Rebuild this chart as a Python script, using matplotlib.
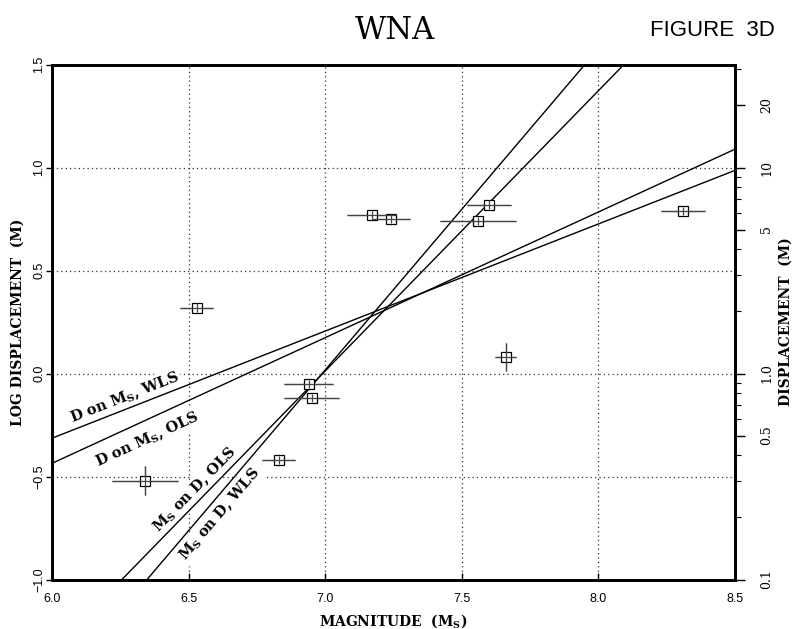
import numpy as np
import matplotlib
matplotlib.use("Agg")
import matplotlib.pyplot as plt
from matplotlib.ticker import FixedLocator, NullFormatter

plt.rcParams["mathtext.fontset"] = "dejavuserif"

# ── observations: magnitude vs log maximum displacement ──────────────────────
mag      = [6.53, 7.17, 7.24, 7.60, 7.56, 8.31, 7.66, 6.94, 6.95, 6.83, 6.34]
mag_err  = [0.06, 0.09, 0.07, 0.08, 0.14, 0.08, 0.04, 0.09, 0.10, 0.06, 0.12]
logd     = [0.32, 0.77, 0.75, 0.82, 0.74, 0.79, 0.08, -0.05, -0.12, -0.42, -0.52]
logd_err = [0.02, 0.02, 0.02, 0.02, 0.02, 0.02, 0.07, 0.02, 0.02, 0.02, 0.07]

# log D = a + b * Ms
d_on_m = {"WLS": (-3.434, 0.52), "OLS": (-4.096, 0.61)}
# Ms = c + d * log D
m_on_d = {"OLS": (6.991, 0.735), "WLS": (6.989, 0.641)}

XLIM = (6.0, 8.5)
YLIM = (-1.0, 1.5)
XTICKS = [6.0, 6.5, 7.0, 7.5, 8.0, 8.5]
YTICKS = [-1.0, -0.5, 0.0, 0.5, 1.0, 1.5]
RIGHT_TICKS = [0.1, 0.5, 1.0, 5, 10, 20]
RIGHT_LABELS = ["0.1", "0.5", "1.0", "5", "10", "20"]

SERIF = "DejaVu Serif"

fig = plt.figure(figsize=(7.95, 6.29), dpi=100)
ax = fig.add_axes([52 / 795, 1 - 579.5 / 629, 683 / 795, 515 / 629])
ax.set_xlim(*XLIM)
ax.set_ylim(*YLIM)

# dotted grid
for gx in XTICKS[1:-1]:
    ax.axvline(gx, color="#333333", lw=0.9, ls=(0, (1, 2.5)), zorder=0.5)
for gy in YTICKS[1:-1]:
    ax.axhline(gy, color="#333333", lw=0.9, ls=(0, (1, 2.5)), zorder=0.5)

# regression lines
xs = np.array(XLIM)
for key, (a, b) in d_on_m.items():
    ax.plot(xs, a + b * xs, color="black", lw=1.0, zorder=2)
ys = np.array(YLIM)
for key, (c, d) in m_on_d.items():
    ax.plot(c + d * ys, ys, color="black", lw=1.0, zorder=2)

# data with error bars
ax.errorbar(mag, logd, xerr=mag_err, yerr=logd_err, fmt="s", ms=6.5,
            mfc="white", mec="black", mew=0.9, ecolor="#444444",
            elinewidth=0.9, capsize=0, zorder=3)
ax.errorbar(mag, logd, xerr=mag_err, yerr=logd_err, fmt="none",
            ecolor="#444444", elinewidth=0.9, capsize=0, zorder=4)


def line_label(text, x0, y0, slope, offset_px):
    p0 = ax.transData.transform((x0, y0))
    p1 = ax.transData.transform((x0 + 0.1, y0 + 0.1 * slope))
    ang = np.degrees(np.arctan2(p1[1] - p0[1], p1[0] - p0[0]))
    nrm = np.radians(ang + 90)
    off = offset_px * 0.72
    ax.annotate(text, (x0, y0), xytext=(off * np.cos(nrm), off * np.sin(nrm)),
                textcoords="offset points", rotation=ang,
                rotation_mode="anchor", ha="center", va="center",
                fontsize=10.5, family=SERIF, weight="bold", zorder=1.5,
                bbox=dict(fc="white", ec="none", pad=1.5))


ms = r"M$_{\mathbf{S}}$"
a, b = d_on_m["WLS"]
line_label(f"D on {ms}, WLS", 6.28, a + b * 6.28, b, 11)
a, b = d_on_m["OLS"]
line_label(f"D on {ms}, OLS", 6.32, a + b * 6.32, b, -18)
c, d = m_on_d["OLS"]
line_label(f"{ms} on D, OLS", c + d * -0.60, -0.60, 1 / d, 10)
c, d = m_on_d["WLS"]
line_label(f"{ms} on D, WLS", c + d * -0.64, -0.64, 1 / d, -13)

# left / bottom axes
ax.set_xticks(XTICKS)
ax.set_xticklabels([f"{v:.1f}" for v in XTICKS], fontsize=9,
                   family="Liberation Sans")
ax.set_yticks(YTICKS)
ax.set_yticklabels([f"{v:.1f}".replace("-", "\u2212") for v in YTICKS],
                   fontsize=9, family="Liberation Sans", rotation=90,
                   va="center")
ax.tick_params(axis="x", direction="in", length=5, width=1, pad=10)
ax.tick_params(axis="y", direction="out", length=4, width=1, pad=1)
for sp in ax.spines.values():
    sp.set_linewidth(2.0)

ax.set_xlabel(f"MAGNITUDE  ({ms})", family=SERIF, weight="bold",
              fontsize=10, labelpad=5)
ax.set_ylabel("LOG DISPLACEMENT  (M)", family=SERIF, weight="bold",
              fontsize=10, labelpad=6)

# right axis: displacement in metres
ax2 = ax.twinx()
ax2.set_yscale("log")
ax2.set_ylim(10 ** YLIM[0], 10 ** YLIM[1])
ax2.yaxis.set_major_locator(FixedLocator(RIGHT_TICKS))
ax2.set_yticklabels(RIGHT_LABELS, fontsize=9, family=SERIF, rotation=90,
                    va="center")
minors = [v * s for s in (0.1, 1, 10) for v in range(2, 10)]
minors = [m for m in minors if 0.1 < m < 10 ** 1.5 and m not in RIGHT_TICKS]
ax2.yaxis.set_minor_locator(FixedLocator(minors))
ax2.yaxis.set_minor_formatter(NullFormatter())
ax2.tick_params(axis="y", which="major", direction="out", length=7, width=1,
                pad=11)
ax2.tick_params(axis="y", which="minor", direction="out", length=4, width=0.8)
ax2.set_ylabel("DISPLACEMENT  (M)", family=SERIF, weight="bold", fontsize=10,
               labelpad=4)
for sp in ax2.spines.values():
    sp.set_linewidth(2.0)

fig.text(0.497, 0.952, "WNA", ha="center", va="center", family=SERIF,
         fontsize=22)
fig.text(0.975, 0.952, "FIGURE  3D", ha="right", va="center",
         family="Liberation Sans", fontsize=16)

fig.savefig("out.png", dpi=100)
